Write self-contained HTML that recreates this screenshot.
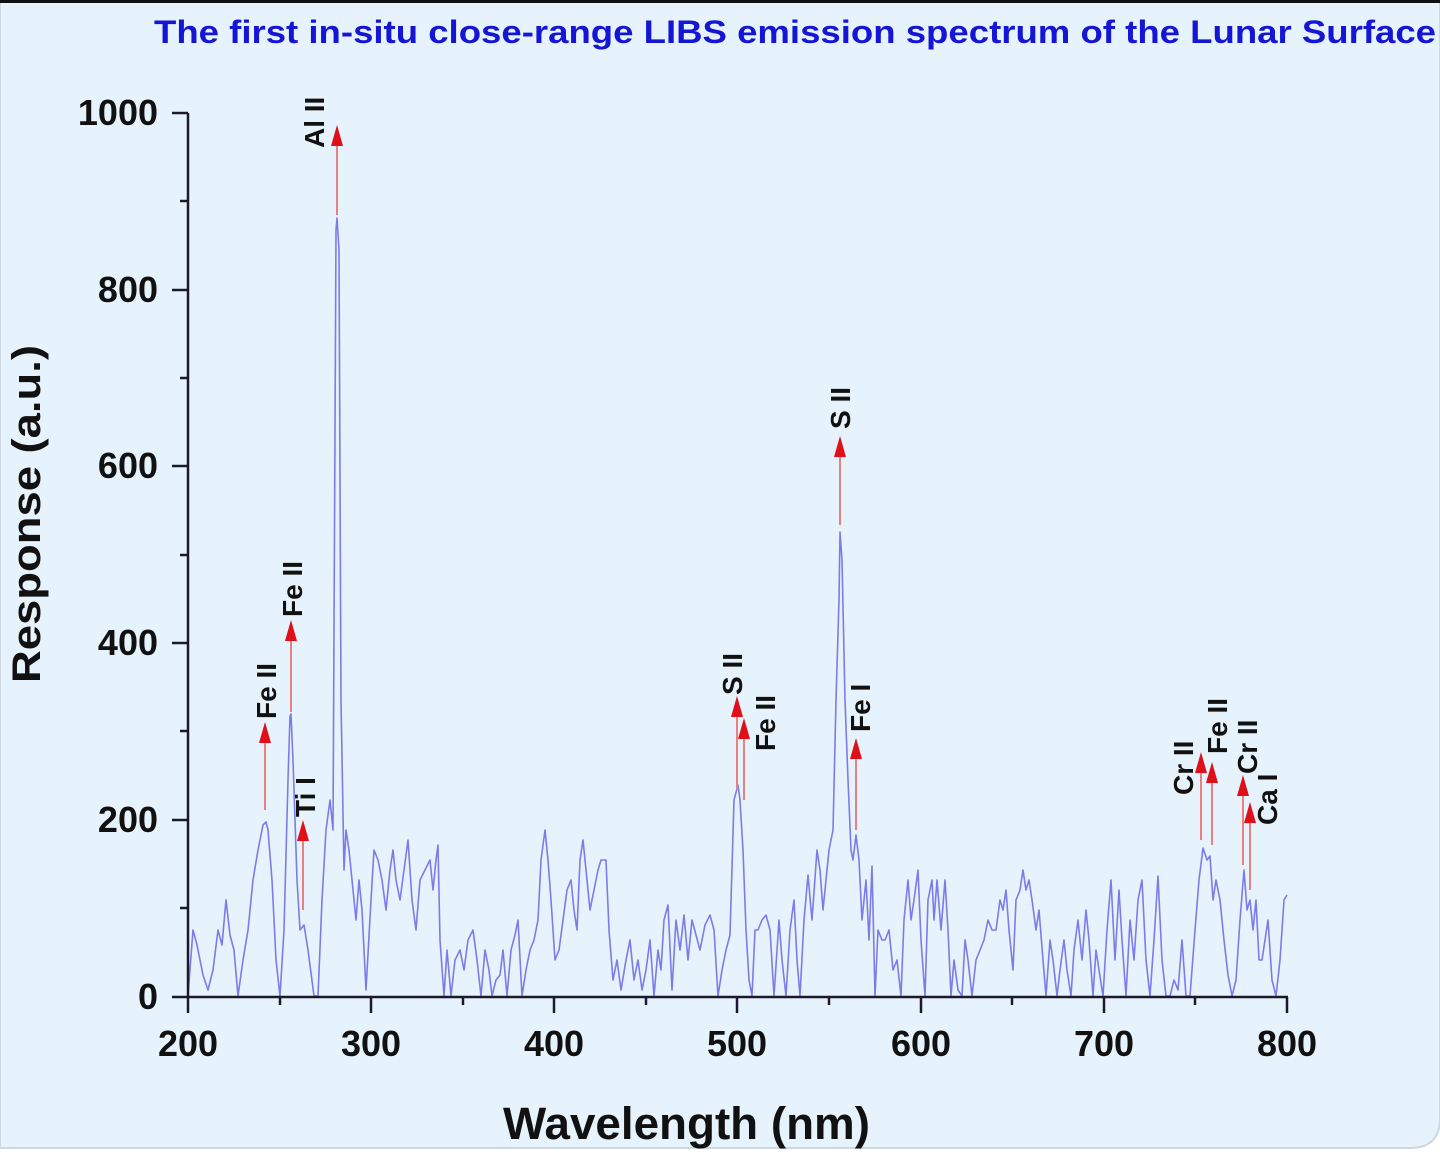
<!DOCTYPE html>
<html><head><meta charset="utf-8"><style>
html,body{margin:0;padding:0;background:#fff;}
svg{display:block;}
text{font-family:"Liberation Sans",Arial,sans-serif;font-weight:bold;}
</style></head><body>
<svg width="1440" height="1159" viewBox="0 0 1440 1159" xmlns="http://www.w3.org/2000/svg">
<path d="M0,0 H1440 V1118 Q1440,1148 1410,1148 H0 Z" fill="#e7f3fc" stroke="#cfd8df" stroke-width="2"/>
<rect x="0" y="0" width="1440" height="3" fill="#111"/>
<text x="1436" y="43" text-anchor="end" font-size="32" fill="#1515d6" textLength="1282" lengthAdjust="spacingAndGlyphs">The first in-situ close-range LIBS emission spectrum of the Lunar Surface</text>

<polyline fill="none" stroke="#7c7ce8" stroke-width="1.6" stroke-linejoin="round" points="188,996 193,930 197,945 203,975 208,990 213,970 218,930 222,945 226,900 230,935 234,950 238,996 243,960 248,930 253,880 258,850 263,825 266,822 268,830 272,880 276,960 280,996 284,930 288,780 290,716 291,714 293,760 297,880 300,930 304,925 308,950 314,996 318,996 322,900 326,830 330,800 333,830 336,230 337,218 339,250 341,700 344,870 346,830 349,850 352,880 356,920 359,880 362,910 366,990 371,900 374,850 378,860 382,880 386,910 390,870 393,850 396,880 400,900 404,870 408,840 412,900 416,930 420,880 425,870 430,860 433,890 436,860 438,845 440,940 444,996 447,950 451,996 455,960 460,950 464,970 468,940 473,930 477,960 481,996 485,950 489,970 492,996 496,980 500,975 503,950 507,996 511,950 515,935 518,920 522,996 526,970 530,950 534,940 538,920 541,860 545,830 548,860 551,900 555,960 559,950 563,920 567,890 571,880 574,910 577,930 580,860 583,840 587,880 590,910 594,890 598,870 601,860 606,860 609,930 613,980 617,960 621,990 626,960 630,940 634,980 638,960 642,990 646,970 650,940 654,996 658,950 661,970 664,920 668,905 672,990 676,920 680,950 684,915 688,960 692,920 696,935 700,950 705,925 710,915 714,930 718,996 722,970 726,950 730,935 734,800 738,785 740,800 743,850 746,930 749,980 752,996 755,930 758,930 762,920 766,915 770,930 774,996 779,920 782,960 786,996 790,930 794,900 797,960 800,996 804,920 808,875 812,920 817,850 820,870 823,910 827,870 829,850 833,830 836,700 839,600 840,532 842,560 845,700 848,780 851,850 853,860 856,835 859,860 862,920 866,880 869,940 872,866 875,996 878,930 882,940 885,940 889,930 893,970 897,960 901,996 904,920 908,880 911,920 914,900 918,870 921,940 925,996 928,900 932,880 934,920 937,880 941,930 945,880 948,930 951,996 954,960 958,990 962,996 965,940 968,960 972,996 976,960 980,950 984,940 988,920 992,930 996,930 1000,900 1003,910 1006,890 1009,930 1013,970 1016,900 1020,890 1023,870 1026,890 1029,880 1032,900 1036,930 1039,910 1043,960 1046,996 1050,940 1053,960 1057,996 1060,970 1064,940 1067,970 1071,996 1074,950 1078,920 1082,960 1086,910 1089,940 1093,996 1096,950 1099,970 1103,996 1107,930 1111,880 1115,960 1119,890 1122,940 1126,996 1130,920 1134,960 1138,900 1142,880 1146,960 1150,996 1154,940 1158,876 1162,960 1166,996 1170,996 1174,980 1178,990 1182,940 1186,996 1190,996 1195,930 1199,880 1203,848 1207,860 1210,856 1213,900 1216,880 1220,900 1224,940 1228,975 1232,996 1236,980 1240,920 1244,870 1247,910 1250,900 1253,930 1256,900 1259,960 1262,960 1265,940 1268,920 1272,980 1276,996 1280,960 1284,900 1287,895"/>

<g stroke="#1a1a2a" stroke-width="2.5" fill="none">
<line x1="188" y1="113" x2="188" y2="997"/>
<line x1="172" y1="997" x2="1288" y2="997"/>
<line x1="172" y1="113" x2="188" y2="113"/>
<line x1="172" y1="820" x2="188" y2="820"/>
<line x1="172" y1="643" x2="188" y2="643"/>
<line x1="172" y1="466" x2="188" y2="466"/>
<line x1="172" y1="290" x2="188" y2="290"/>
<line x1="180" y1="908" x2="188" y2="908"/>
<line x1="180" y1="731" x2="188" y2="731"/>
<line x1="180" y1="555" x2="188" y2="555"/>
<line x1="180" y1="378" x2="188" y2="378"/>
<line x1="180" y1="201" x2="188" y2="201"/>
<line x1="188" y1="997" x2="188" y2="1013"/>
<line x1="371" y1="997" x2="371" y2="1013"/>
<line x1="554" y1="997" x2="554" y2="1013"/>
<line x1="737" y1="997" x2="737" y2="1013"/>
<line x1="921" y1="997" x2="921" y2="1013"/>
<line x1="1104" y1="997" x2="1104" y2="1013"/>
<line x1="1287" y1="997" x2="1287" y2="1013"/>
<line x1="280" y1="997" x2="280" y2="1005"/>
<line x1="463" y1="997" x2="463" y2="1005"/>
<line x1="646" y1="997" x2="646" y2="1005"/>
<line x1="829" y1="997" x2="829" y2="1005"/>
<line x1="1012" y1="997" x2="1012" y2="1005"/>
<line x1="1195" y1="997" x2="1195" y2="1005"/>
</g>
<g font-size="36" fill="#111" text-anchor="end">
<text x="158" y="1009">0</text>
<text x="158" y="832">200</text>
<text x="158" y="655">400</text>
<text x="158" y="478">600</text>
<text x="158" y="302">800</text>
<text x="158" y="125">1000</text>
</g>
<g font-size="36" fill="#111" text-anchor="middle">
<text x="188" y="1056">200</text>
<text x="371" y="1056">300</text>
<text x="554" y="1056">400</text>
<text x="737" y="1056">500</text>
<text x="921" y="1056">600</text>
<text x="1104" y="1056">700</text>
<text x="1287" y="1056">800</text>
</g>
<text x="503" y="1139" font-size="45" fill="#111" textLength="367" lengthAdjust="spacingAndGlyphs">Wavelength (nm)</text>
<text transform="translate(40,683) rotate(-90)" font-size="40" fill="#111" textLength="338" lengthAdjust="spacingAndGlyphs">Response (a.u.)</text>

<g stroke="#e88080" stroke-width="2">
<line x1="265" y1="810" x2="265" y2="740"/>
<line x1="291" y1="712" x2="291" y2="638"/>
<line x1="303" y1="910" x2="303" y2="838"/>
<line x1="337" y1="215" x2="337" y2="143"/>
<line x1="737" y1="790" x2="737" y2="714"/>
<line x1="744" y1="800" x2="744" y2="736"/>
<line x1="840" y1="525" x2="840" y2="454"/>
<line x1="856" y1="830" x2="856" y2="756"/>
<line x1="1201" y1="840" x2="1201" y2="770"/>
<line x1="1212" y1="845" x2="1212" y2="780"/>
<line x1="1243" y1="865" x2="1243" y2="793"/>
<line x1="1250" y1="890" x2="1250" y2="820"/>
</g>
<g fill="#e0101a">
<polygon points="265,722 259,743 271,743"/>
<polygon points="291,620 285,641 297,641"/>
<polygon points="303,820 297,841 309,841"/>
<polygon points="337,125 331,146 343,146"/>
<polygon points="737,696 731,717 743,717"/>
<polygon points="744,718 738,739 750,739"/>
<polygon points="840,436 834,457 846,457"/>
<polygon points="856,738 850,759 862,759"/>
<polygon points="1201,752 1195,773 1207,773"/>
<polygon points="1212,762 1206,783 1218,783"/>
<polygon points="1243,775 1237,796 1249,796"/>
<polygon points="1250,802 1244,823 1256,823"/>
</g>
<g font-size="28" fill="#111">
<text transform="translate(276,719) rotate(-90)">Fe II</text>
<text transform="translate(302,617) rotate(-90)">Fe II</text>
<text transform="translate(315,817) rotate(-90)">Ti I</text>
<text transform="translate(324,148) rotate(-90)">Al II</text>
<text transform="translate(742,695) rotate(-90)">S II</text>
<text transform="translate(775,751) rotate(-90)">Fe II</text>
<text transform="translate(850,429) rotate(-90)">S II</text>
<text transform="translate(870,732) rotate(-90)">Fe I</text>
<text transform="translate(1193,795) rotate(-90)">Cr II</text>
<text transform="translate(1227,754) rotate(-90)">Fe II</text>
<text transform="translate(1257,774) rotate(-90)">Cr II</text>
<text transform="translate(1277,825) rotate(-90)">Ca I</text>
</g>
</svg>
</body></html>
